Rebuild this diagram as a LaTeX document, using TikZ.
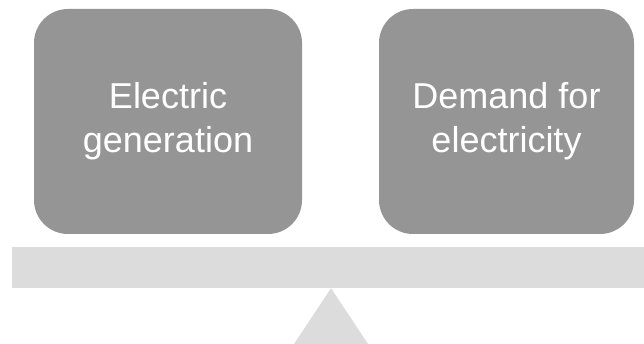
\documentclass[tikz,border=0pt]{standalone}
\usepackage{fontspec}
\setmainfont{Liberation Sans}
\usetikzlibrary{calc,positioning}
\definecolor{boxgray}{HTML}{959595}
\definecolor{beamgray}{HTML}{DCDCDC}
\tikzset{
mybox/.style={
  rectangle,
  rounded corners=34pt,
  fill=boxgray,
  text=white,
  align=center,
  inner sep=0pt,
  minimum height=225pt,
  font=\fontsize{36}{44}\selectfont
  },
mybeam/.style={
  rectangle,
  fill=beamgray,
  inner sep=0pt,
  minimum width=632pt,
  minimum height=41pt
  }
}
\begin{document}
\begin{tikzpicture}[x=1pt,y=-1pt]
    \useasboundingbox (0,0) rectangle (644,344);
    \node[mybox,minimum width=268pt] (gen) at (168,121.5) {Electric\\generation};
    \node[mybox,minimum width=255pt] (demand) at (506.5,121.5) {Demand for\\electricity};
    \node[mybeam] (beam) at (328,267.5) {};
    % pivot under the beam
    \coordinate (pivot) at (beam.south -| 331,0);
    \fill[beamgray] (pivot) -- (368,344) -- (294,344) -- cycle;
\end{tikzpicture}
\end{document}
